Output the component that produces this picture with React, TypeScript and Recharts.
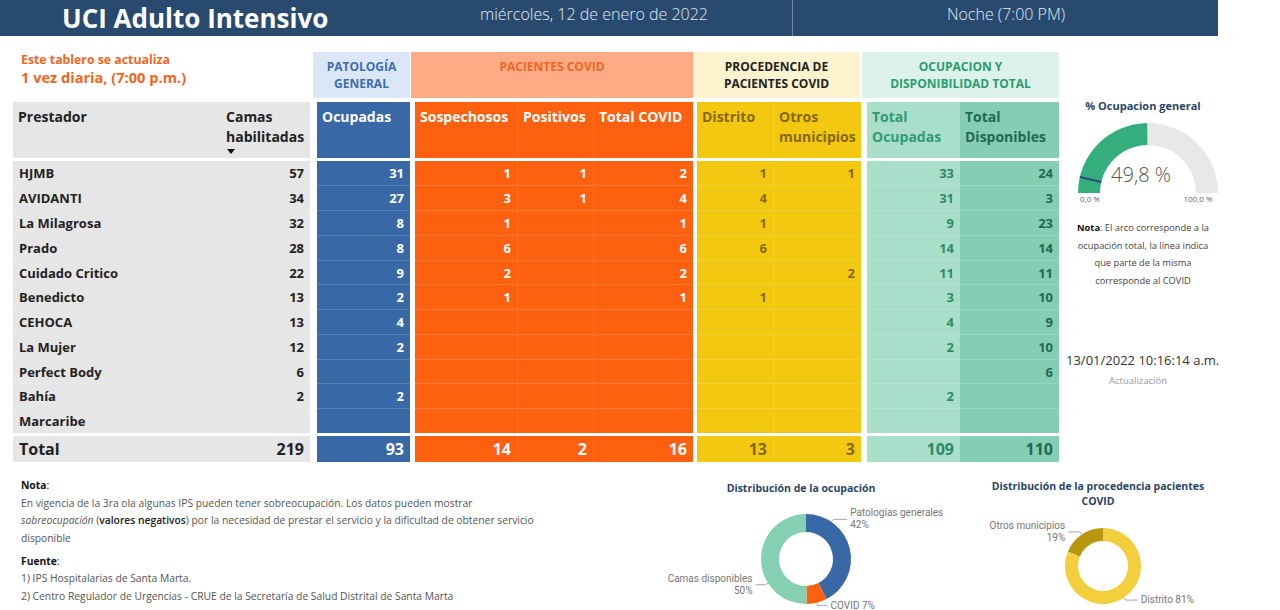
import React from 'react';
import { PieChart, Pie, Cell } from 'recharts';

// ---------------- DATA ----------------
const prestadores = ['HJMB', 'AVIDANTI', 'La Milagrosa', 'Prado', 'Cuidado Critico', 'Benedicto', 'CEHOCA', 'La Mujer', 'Perfect Body', 'Bahía', 'Marcaribe'];
const camasHabilitadas = [57, 34, 32, 28, 22, 13, 13, 12, 6, 2, null];
const ocupadasGeneral = [31, 27, 8, 8, 9, 2, 4, 2, null, 2, null];
const sospechosos = [1, 3, 1, 6, 2, 1, null, null, null, null, null];
const positivos = [1, 1, null, null, null, null, null, null, null, null, null];
const totalCovid = [2, 4, 1, 6, 2, 1, null, null, null, null, null];
const distrito = [1, 4, 1, 6, null, 1, null, null, null, null, null];
const otrosMunicipios = [1, null, null, null, 2, null, null, null, null, null, null];
const totalOcupadas = [33, 31, 9, 14, 11, 3, 4, 2, null, 2, null];
const totalDisponibles = [24, 3, 23, 14, 11, 10, 9, 10, 6, null, null];

const ocupacionLabels = ['Patologias generales', 'COVID', 'Camas disponibles'];
const procedenciaLabels = ['Distrito', 'Otros municipios'];
const gaugeLabels = ['0,0 %', '100,0 %'];

const sum = (a: (number | null)[]) => a.reduce((s: number, v) => s + (v ?? 0), 0);

// ---------------- STYLE ----------------
const F = '"Open Sans", "Noto Sans", sans-serif';
const F2 = 'Roboto, "Noto Sans", sans-serif';
const NAVY = '#284a6e';
const GRAY = '#e6e6e6';
const BLUE = '#3868a5';
const ORANGE = '#fd600f';
const YELLOW = '#f2c811';
const GREEN1 = '#a9dfca';
const GREEN2 = '#84cfb3';

const HEAD_TOP = 102;
const HEAD_H = 56;
const ROW_TOP = 160.5;
const ROW_H = 24.75;
const TOTAL_TOP = 436;
const TOTAL_H = 26;

type ColDef = {
  header: string[];
  values: (number | null)[] | string[];
  left: number;
  width: number;
  bg: string;
  color: string;
  headColor: string;
  align: 'left' | 'right';
  total: string;
  sortArrow?: boolean;
  sep?: boolean;
};

const camasTotal = sum(camasHabilitadas);

const cols: ColDef[] = [
  { header: ['Prestador'], values: prestadores, left: 13, width: 208, bg: GRAY, color: '#222', headColor: '#222', align: 'left', total: 'Total' },
  { header: ['Camas', 'habilitadas'], values: camasHabilitadas, left: 221, width: 89, bg: GRAY, color: '#222', headColor: '#222', align: 'right', total: String(camasTotal), sortArrow: true },
  { header: ['Ocupadas'], values: ocupadasGeneral, left: 317, width: 93, bg: BLUE, color: '#fff', headColor: '#fff', align: 'right', total: String(sum(ocupadasGeneral)) },
  { header: ['Sospechosos'], values: sospechosos, left: 415, width: 102, bg: ORANGE, color: '#fff', headColor: '#fff', align: 'right', total: String(sum(sospechosos)) },
  { header: ['Positivos'], values: positivos, left: 517, width: 76, bg: ORANGE, color: '#fff', headColor: '#fff', align: 'right', total: String(sum(positivos)), sep: true },
  { header: ['Total COVID'], values: totalCovid, left: 593, width: 100, bg: ORANGE, color: '#fff', headColor: '#fff', align: 'right', total: String(sum(totalCovid)), sep: true },
  { header: ['Distrito'], values: distrito, left: 697, width: 76, bg: YELLOW, color: '#85680a', headColor: '#85680a', align: 'right', total: String(sum(distrito)) },
  { header: ['Otros', 'municipios'], values: otrosMunicipios, left: 773, width: 88, bg: YELLOW, color: '#85680a', headColor: '#85680a', align: 'right', total: String(sum(otrosMunicipios)), sep: true },
  { header: ['Total', 'Ocupadas'], values: totalOcupadas, left: 867, width: 93, bg: GREEN1, color: '#2f8a68', headColor: '#2f9a74', align: 'right', total: String(sum(totalOcupadas)) },
  { header: ['Total', 'Disponibles'], values: totalDisponibles, left: 960, width: 99, bg: GREEN2, color: '#1f6a51', headColor: '#1f6a51', align: 'right', total: String(sum(totalDisponibles)) },
];

const groups = [
  { lines: ['PATOLOGÍA', 'GENERAL'], left: 313, width: 97, bg: '#dbe7f6', color: '#3b6eb0' },
  { lines: ['PACIENTES COVID'], left: 411, width: 282, bg: '#fcab84', color: '#f26522' },
  { lines: ['PROCEDENCIA DE', 'PACIENTES COVID'], left: 693, width: 167, bg: '#fdf3cf', color: '#222' },
  { lines: ['OCUPACION Y', 'DISPONIBILIDAD TOTAL'], left: 862, width: 197, bg: '#dcf2ea', color: '#2c9b70' },
];

const abs = (l: number, t: number, w?: number, h?: number): React.CSSProperties => ({
  position: 'absolute', left: l, top: t, width: w, height: h,
});

const RAD = Math.PI / 180;

function Column({ c }: { c: ColDef }) {
  const pad = 5;
  const sepStyle = c.sep ? '1px solid rgba(255,255,255,0.14)' : 'none';
  return (
    <>
      <div style={{ ...abs(c.left, HEAD_TOP, c.width, HEAD_H), background: c.bg, color: c.headColor, fontFamily: F, fontWeight: 700, fontSize: 14, lineHeight: '20px', boxSizing: 'border-box', padding: `5px ${pad}px 0 ${pad}px`, whiteSpace: 'nowrap', borderLeft: sepStyle }}>
        {c.header.map((h, i) => <div key={i}>{h}</div>)}
        {c.sortArrow && <div style={{ width: 0, height: 0, borderLeft: '4px solid transparent', borderRight: '4px solid transparent', borderTop: '5px solid #111', marginLeft: 1, marginTop: 2 }} />}
      </div>
      <div style={{ ...abs(c.left, ROW_TOP, c.width, ROW_H * c.values.length), background: c.bg, boxSizing: 'border-box', borderLeft: sepStyle }}>
        {c.values.map((v, i) => (
          <div key={i} style={{ ...abs(0, i * ROW_H, c.width - (c.sep ? 1 : 0), ROW_H), boxSizing: 'border-box', borderTop: i > 0 ? '1px solid rgba(255,255,255,0.16)' : 'none', color: c.color, fontFamily: F, fontWeight: 700, fontSize: 13, lineHeight: `${ROW_H}px`, textAlign: c.align, padding: `0 ${pad + 1}px`, whiteSpace: 'nowrap' }}>
            {v === null ? '' : String(v)}
          </div>
        ))}
      </div>
      <div style={{ ...abs(c.left, TOTAL_TOP, c.width, TOTAL_H), background: c.bg, color: c.color, fontFamily: F, fontWeight: 700, fontSize: 16, lineHeight: `${TOTAL_H}px`, textAlign: c.align, boxSizing: 'border-box', padding: `0 ${pad + 1}px`, whiteSpace: 'nowrap', borderLeft: sepStyle }}>
        {c.total}
      </div>
    </>
  );
}

// Pie label with leader line
function makeLabel(angleShift: number[], hLen: number[]) {
  return (props: any) => {
    const { cx, cy, midAngle, outerRadius, percent, index, name } = props;
    const a = midAngle + (angleShift[index] ?? 0);
    const cos = Math.cos(-a * RAD);
    const sin = Math.sin(-a * RAD);
    const x1 = cx + outerRadius * cos;
    const y1 = cy + outerRadius * sin;
    const x2 = cx + (outerRadius + 3) * cos;
    const y2 = cy + (outerRadius + 3) * sin;
    const right = cos >= 0;
    const h = hLen[index] ?? 10;
    const x3 = x2 + (right ? h : -h);
    const tx = x3 + (right ? 3 : -3);
    const pct = `${Math.round(percent * 100)}%`;
    const two = String(name).length > 10;
    const anchor = right ? 'start' : 'end';
    return (
      <g>
        <polyline points={`${x1},${y1} ${x2},${y2} ${x3},${y2}`} fill="none" stroke="#aaa" strokeWidth={1} />
        {two ? (
          <text x={tx} y={y2} textAnchor={anchor} fontFamily={F2} fontSize={10} fill="#777">
            <tspan x={tx} dy={-3}>{name}</tspan>
            <tspan x={tx} dy={12}>{pct}</tspan>
          </text>
        ) : (
          <text x={tx} y={y2 + 3} textAnchor={anchor} fontFamily={F2} fontSize={10} fill="#777">{`${name} ${pct}`}</text>
        )}
      </g>
    );
  };
}

function GaugeMarker(props: any) {
  const { cx, cy, innerRadius, outerRadius, endAngle, index } = props;
  if (index !== 0) return null;
  const c = Math.cos(-endAngle * RAD);
  const s = Math.sin(-endAngle * RAD);
  return (
    <line x1={cx + innerRadius * c} y1={cy + innerRadius * s} x2={cx + outerRadius * c} y2={cy + outerRadius * s} stroke="#2d4a78" strokeWidth={2} />
  );
}

export default function App() {
  const totOcup = sum(totalOcupadas);
  const totCovid = sum(totalCovid);
  const gaugeData = [
    { name: 'Ocupadas', value: totOcup },
    { name: 'Disponibles', value: camasTotal - totOcup },
  ];
  const covidMarker = [
    { name: 'COVID', value: totCovid },
    { name: 'Resto', value: camasTotal - totCovid },
  ];
  const ocupPct = ((totOcup / camasTotal) * 100).toFixed(1).replace('.', ',');

  const ocupacionData = [
    { name: ocupacionLabels[0], value: sum(ocupadasGeneral) },
    { name: ocupacionLabels[1], value: totCovid },
    { name: ocupacionLabels[2], value: sum(totalDisponibles) },
  ];
  const ocupacionColors = [BLUE, ORANGE, '#85cfb3'];
  const procedenciaData = [
    { name: procedenciaLabels[0], value: sum(distrito) },
    { name: procedenciaLabels[1], value: sum(otrosMunicipios) },
  ];
  const procedenciaColors = ['#f3cf3e', '#b8960f'];

  const small: React.CSSProperties = { fontFamily: F, fontSize: 10.3, color: '#555', whiteSpace: 'nowrap' };

  return (
    <div style={{ position: 'absolute', left: 0, top: 0, width: 1280, height: 610, background: '#fff', overflow: 'hidden' }}>
      {/* Header */}
      <div style={{ ...abs(0, 0, 1218, 36), background: NAVY }} />
      <div style={{ ...abs(792, 0, 1, 36), background: '#6f8aa8' }} />
      <div style={{ ...abs(62, 1, 400, 34), color: '#fff', fontFamily: F, fontWeight: 700, fontSize: 26, lineHeight: '34px', whiteSpace: 'nowrap' }}>UCI Adulto Intensivo</div>
      <div style={{ ...abs(400, 0, 388, 28), color: '#e4eaf2', fontFamily: F, fontWeight: 300, fontSize: 16, lineHeight: '28px', textAlign: 'center' }}>miércoles, 12 de enero de 2022</div>
      <div style={{ ...abs(800, 0, 412, 28), color: '#e4eaf2', fontFamily: F, fontWeight: 300, fontSize: 16, lineHeight: '28px', textAlign: 'center' }}>Noche (7:00 PM)</div>

      {/* Update note */}
      <div style={{ ...abs(21, 51, 250, 18), color: '#f26522', fontFamily: F, fontWeight: 700, fontSize: 12.3, lineHeight: '18px', whiteSpace: 'nowrap' }}>Este tablero se actualiza</div>
      <div style={{ ...abs(21, 67, 250, 20), color: '#f26522', fontFamily: F, fontWeight: 700, fontSize: 14.6, lineHeight: '20px', whiteSpace: 'nowrap' }}>1 vez diaria, (7:00 p.m.)</div>

      {/* Group headers */}
      {groups.map((g, i) => (
        <div key={i} style={{ ...abs(g.left, 52, g.width, 46), background: g.bg, color: g.color, fontFamily: F, fontWeight: 700, fontSize: 12, lineHeight: '17px', textAlign: 'center', boxSizing: 'border-box', paddingTop: 6, whiteSpace: 'nowrap' }}>
          {g.lines.map((l, j) => <div key={j}>{l}</div>)}
        </div>
      ))}

      {/* Table */}
      {cols.map((c, i) => <Column key={i} c={c} />)}

      {/* Gauge */}
      <div style={{ ...abs(1033, 96, 220, 20), textAlign: 'center', fontFamily: F, fontWeight: 700, fontSize: 11, color: '#2a4466', lineHeight: '20px' }}>% Ocupacion general</div>
      <div style={{ ...abs(1033, 100, 220, 100) }}>
        <PieChart width={220} height={100}>
          <Pie data={gaugeData} dataKey="value" cx={110} cy={88} startAngle={180} endAngle={0} innerRadius={48} outerRadius={70} stroke="none" isAnimationActive={false}>
            <Cell fill="#33ae7c" />
            <Cell fill="#e8e8e8" />
          </Pie>
          <Pie data={covidMarker} dataKey="value" cx={110} cy={88} startAngle={180} endAngle={0} innerRadius={48} outerRadius={70} fill="none" stroke="none" isAnimationActive={false} label={GaugeMarker} labelLine={false} />
        </PieChart>
      </div>
      <div style={{ ...abs(1031, 160, 220, 30), textAlign: 'center', fontFamily: F, fontWeight: 300, fontSize: 20, color: '#555', lineHeight: '30px' }}>{`${ocupPct} %`}</div>
      <div style={{ ...abs(1060, 192, 60, 14), textAlign: 'center', fontFamily: F, fontSize: 8, color: '#666', lineHeight: '14px' }}>{gaugeLabels[0]}</div>
      <div style={{ ...abs(1168, 192, 60, 14), textAlign: 'center', fontFamily: F, fontSize: 8, color: '#666', lineHeight: '14px' }}>{gaugeLabels[1]}</div>
      <div style={{ ...abs(1043, 219, 200, 80), textAlign: 'center', fontFamily: F, fontSize: 9.3, color: '#444', lineHeight: '17.5px' }}>
        <div><b style={{ color: '#111' }}>Nota</b>: El arco corresponde a la</div>
        <div>ocupación total, la línea indica</div>
        <div>que parte de la misma</div>
        <div>corresponde al COVID</div>
      </div>
      <div style={{ ...abs(1060, 350, 160, 20), fontFamily: F, fontSize: 13, color: '#333', lineHeight: '20px', whiteSpace: 'nowrap', paddingLeft: 6 }}>13/01/2022 10:16:14 a.m.</div>
      <div style={{ ...abs(1088, 373, 100, 16), textAlign: 'center', fontFamily: F, fontSize: 9.5, color: '#999', lineHeight: '16px' }}>Actualización</div>

      {/* Notes bottom left */}
      <div style={{ ...abs(21, 478, 560, 132) }}>
        <div style={{ ...small, color: '#111', fontWeight: 700, position: 'absolute', top: 0 }}>Nota<span style={{ fontWeight: 400 }}>:</span></div>
        <div style={{ ...small, position: 'absolute', top: 18 }}>En vigencia de la 3ra ola algunas IPS pueden tener sobreocupación. Los datos pueden mostrar</div>
        <div style={{ ...small, position: 'absolute', top: 35 }}><i>sobreocupación</i> (<span style={{ color: '#222', fontWeight: 600 }}>valores negativos</span>) por la necesidad de prestar el servicio y la dificultad de obtener servicio</div>
        <div style={{ ...small, position: 'absolute', top: 53 }}>disponible</div>
        <div style={{ ...small, color: '#111', fontWeight: 700, position: 'absolute', top: 76 }}>Fuente<span style={{ fontWeight: 400 }}>:</span></div>
        <div style={{ ...small, position: 'absolute', top: 93 }}>1) IPS Hospitalarias de Santa Marta.</div>
        <div style={{ ...small, position: 'absolute', top: 111 }}>2) Centro Regulador de Urgencias - CRUE de la Secretaría de Salud Distrital de Santa Marta</div>
      </div>

      {/* Donut 1 */}
      <div style={{ ...abs(651, 479, 300, 18), textAlign: 'center', fontFamily: F, fontWeight: 700, fontSize: 10.5, color: '#2a4466', lineHeight: '18px' }}>Distribución de la ocupación</div>
      <div style={{ ...abs(651, 497, 300, 113) }}>
        <PieChart width={300} height={113}>
          <Pie data={ocupacionData} dataKey="value" nameKey="name" cx={150} cy={57} startAngle={90} endAngle={-270} innerRadius={27} outerRadius={45} stroke="none" isAnimationActive={false} label={makeLabel([42, 0, 32], [14, 10, 10])} labelLine={false}>
            {ocupacionColors.map((c, i) => <Cell key={i} fill={c} />)}
          </Pie>
        </PieChart>
      </div>

      {/* Donut 2 */}
      <div style={{ ...abs(948, 479, 300, 34), textAlign: 'center', fontFamily: F, fontWeight: 700, fontSize: 10.5, color: '#2a4466', lineHeight: '15px' }}>
        <div>Distribución de la procedencia pacientes</div>
        <div>COVID</div>
      </div>
      <div style={{ ...abs(948, 510, 300, 100) }}>
        <PieChart width={300} height={100}>
          <Pie data={procedenciaData} dataKey="value" nameKey="name" cx={150} cy={51} startAngle={90} endAngle={-270} innerRadius={25} outerRadius={38} stroke="none" isAnimationActive={false} label={makeLabel([0, 0], [12, 12])} labelLine={false}>
            {procedenciaColors.map((c, i) => <Cell key={i} fill={c} />)}
          </Pie>
        </PieChart>
      </div>
    </div>
  );
}
